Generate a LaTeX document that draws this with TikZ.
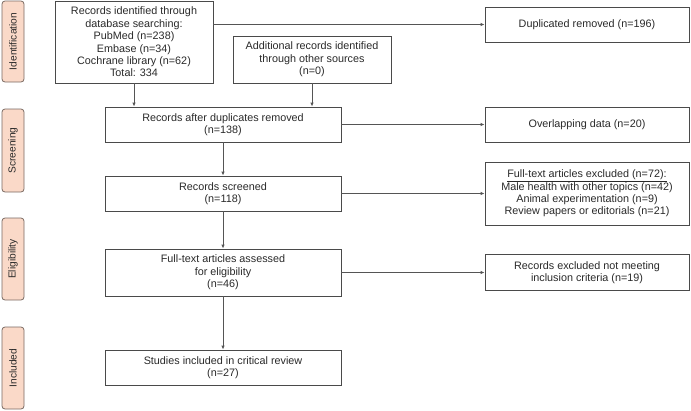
\documentclass[tikz,border=0pt]{standalone}
\usepackage{fontspec}
\setmainfont{Liberation Sans}
\usetikzlibrary{arrows.meta}
\definecolor{boxline}{HTML}{4A4A4A}
\definecolor{conn}{HTML}{555555}
\definecolor{phasefill}{HTML}{FAD9C8}
\definecolor{phaseline}{HTML}{7A6A62}
\definecolor{txt}{HTML}{2A2A2A}
\tikzset{
  flowbox/.style={draw=boxline, line width=0.8pt, fill=white, align=center, inner sep=2pt,
    font=\fontsize{10.8}{12.4}\selectfont, text=txt},
  phasebox/.style={draw=phaseline, line width=0.8pt, fill=phasefill, rounded corners=3pt,
    rotate=90, minimum height=22pt, inner sep=0pt, font=\fontsize{10.2}{11}\selectfont, text=txt},
  conn/.style={draw=conn, line width=0.8pt, -{Latex[length=4pt,width=3.4pt]}},
}
\begin{document}
\begin{tikzpicture}[x=1pt,y=-1pt]
\useasboundingbox (0,0) rectangle (691,410);
% phase labels
\node[phasebox, minimum width=81pt] (pid) at (13,41.5) {Identification};
\node[phasebox, minimum width=83pt] (psc) at (13,150.5) {Screening};
\node[phasebox, minimum width=82pt] (pel) at (13,259) {Eligibility};
\node[phasebox, minimum width=82pt] (pin) at (13,368) {Included};
% boxes
\node[flowbox, minimum width=158pt, minimum height=82pt] (ident) at (134,42)
  {Records identified through\\database searching:\\PubMed (n=238)\\Embase (n=34)\\Cochrane library (n=62)\\Total: 334};
\node[flowbox, minimum width=158pt, minimum height=47pt] (addl) at (312,59.5)
  {Additional records identified\\through other sources\\(n=0)};
\node[flowbox, minimum width=204pt, minimum height=35pt] (dup) at (587,24.5)
  {Duplicated removed (n=196)};
\node[flowbox, minimum width=236pt, minimum height=35pt] (after) at (223,124.5)
  {Records after duplicates removed\\(n=138)};
\node[flowbox, minimum width=204pt, minimum height=35pt] (overlap) at (587,124.5)
  {Overlapping data (n=20)};
\node[flowbox, minimum width=236pt, minimum height=35pt] (screen) at (223,193.5)
  {Records screened\\(n=118)};
\node[flowbox, minimum width=204pt, minimum height=63pt] (excl) at (587,193.5)
  {\underline{Full-text articles excluded (n=72):}\\Male health with other topics (n=42)\\Animal experimentation (n=9)\\Review papers or editorials (n=21)};
\node[flowbox, minimum width=236pt, minimum height=47pt] (assess) at (223,272.5)
  {Full-text articles assessed\\for eligibility\\(n=46)};
\node[flowbox, minimum width=204pt, minimum height=36pt] (notmeet) at (587,272.5)
  {Records excluded not meeting\\inclusion criteria (n=19)};
\node[flowbox, minimum width=236pt, minimum height=35pt] (incl) at (223,367.5)
  {Studies included in critical review\\(n=27)};
% connectors
\draw[conn] (ident.south) -- (ident.south |- after.north);
\draw[conn] (addl.south) -- (addl.south |- after.north);
\draw[conn] (ident.east |- dup.west) -- (dup.west);
\draw[conn] (after.east) -- (overlap.west);
\draw[conn] (after.south) -- (screen.north);
\draw[conn] (screen.east) -- (excl.west);
\draw[conn] (screen.south) -- (assess.north);
\draw[conn] (assess.east) -- (notmeet.west);
\draw[conn] (assess.south) -- (incl.north);
\end{tikzpicture}
\end{document}
